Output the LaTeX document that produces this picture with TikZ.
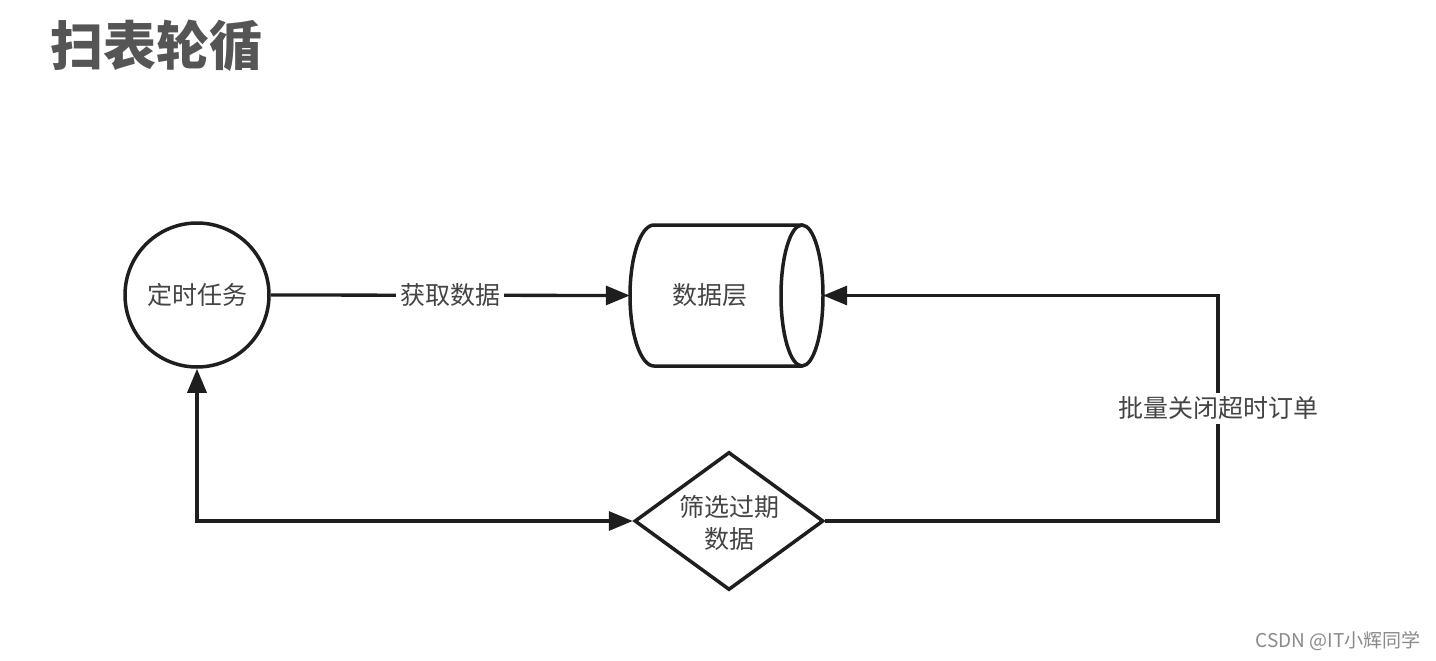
\documentclass[tikz,border=0pt]{standalone}
\usepackage{fontspec}
\setmainfont{Noto Sans CJK SC}
\usetikzlibrary{arrows.meta,shapes.geometric}
\definecolor{linec}{HTML}{1E1E1E}
\definecolor{textc}{HTML}{444444}
\definecolor{titlec}{HTML}{555555}
\definecolor{wmc}{HTML}{8A8A8A}
\tikzset{
  shapeline/.style={draw=linec, line width=3.5pt},
  conn/.style={draw=linec, line width=3.3pt, -{Triangle[length=24pt,width=19pt]}},
  lbl/.style={text=textc, font=\fontsize{25}{32}\selectfont, inner sep=3pt, align=center},
  edgelbl/.style={lbl, fill=white, inner sep=4pt},
}
\begin{document}
\begin{tikzpicture}[x=1pt,y=-1pt]
\useasboundingbox (0,0) rectangle (1436,661);
\fill[white] (0,0) rectangle (1436,661);
% title
\node[text=titlec, font=\fontsize{53}{60}\selectfont\bfseries, anchor=west, inner sep=0] (title) at (50,46) {扫表轮循};
% timer circle
\node[shapeline, circle, minimum size=144pt, inner sep=0] (task) at (197,295) {};
\node[lbl] (tasklbl) at (197,295) {定时任务};
% cylinder (data layer)
\draw[shapeline, fill=white] (802,225) -- (654,225) arc[start angle=270, end angle=90, x radius=24, y radius=70.5] -- (802,366);
\draw[shapeline] (802,295.5) ellipse[x radius=21, y radius=70.5];
\node[minimum width=193pt, minimum height=141pt, inner sep=0] (db) at (726.5,295.5) {};
\node[lbl] (dblbl) at (710,295) {数据层};
% diamond
\node[shapeline, diamond, minimum width=189pt, minimum height=138pt, inner sep=0] (dia) at (729,521) {};
\node[lbl] (dialbl) at (729,523) {筛选过期\\数据};
% connectors
\draw[conn] (task.east) -- node[edgelbl] (getlbl) {获取数据} (db.west);
\draw[conn, {Triangle[length=24pt,width=19pt]}-{Triangle[length=24pt,width=19pt]}] (task.south) |- (dia.west);
\coordinate (corner) at (1218,521);
\draw[conn] (dia.east) -- (corner) -- node[edgelbl, pos=0.5] (closelbl) {批量关闭超时订单} (corner |- db.east) -- (db.east);
% watermark
\node[text=wmc, font=\fontsize{19}{22}\selectfont, anchor=east, inner sep=0] (wm) at (1421,641) {CSDN @IT小辉同学};
\end{tikzpicture}
\end{document}
